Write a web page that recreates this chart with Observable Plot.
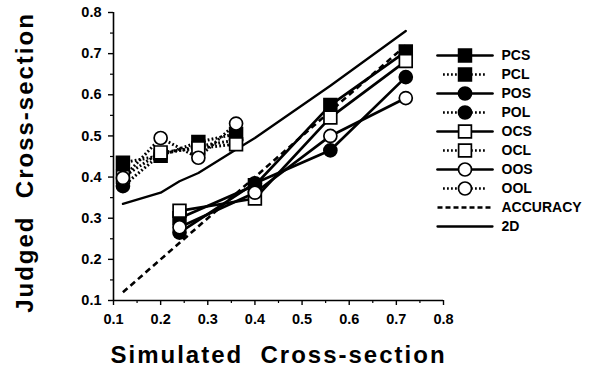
<!DOCTYPE html>
<html>
<head>
<meta charset="utf-8">
<script src="https://cdn.jsdelivr.net/npm/d3@7"></script>
<script src="https://cdn.jsdelivr.net/npm/@observablehq/plot@0.6"></script>
<style>
  html, body { margin: 0; padding: 0; background: #fff; }
  #wrap { position: relative; width: 606px; height: 374px; }
  #main svg { display: block; }
  #legend { position: absolute; left: 420px; top: 30px; }
  #main g[aria-label="text"] text { letter-spacing: 2px; }
</style>
</head>
<body>
<div id="wrap"><div id="main"></div><div id="legend"></div></div>
<script>
// Simulated cross-section values for the two stimulus sets
const xL = [0.12, 0.2, 0.28, 0.36];
const xS = [0.24, 0.4, 0.56, 0.72];

// Judged cross-section per condition
const PCS = [0.300, 0.380, 0.575, 0.705];
const PCL = [0.435, 0.452, 0.485, 0.505];
const POS = [0.265, 0.385, 0.465, 0.643];
const POL = [0.378, 0.455, 0.475, 0.490];
const OCS = [0.318, 0.348, 0.545, 0.682];
const OCL = [0.400, 0.460, 0.470, 0.480];
const OOS = [0.278, 0.362, 0.500, 0.592];
const OOL = [0.398, 0.495, 0.447, 0.530];

const accX = [0.12, 0.72];
const accY = [0.12, 0.72];

const x2D = [0.12, 0.2, 0.24, 0.28, 0.36, 0.4, 0.56, 0.72];
const y2D = [0.335, 0.362, 0.390, 0.410, 0.467, 0.495, 0.622, 0.755];

const xTicks = [0.1, 0.2, 0.3, 0.4, 0.5, 0.6, 0.7, 0.8];
const yTicks = [0.1, 0.2, 0.3, 0.4, 0.5, 0.6, 0.7, 0.8];
const minorTicks = [0.15, 0.25, 0.35, 0.45, 0.55, 0.65, 0.75];

const legendNames = ["PCS","PCL","POS","POL","OCS","OCL","OOS","OOL","ACCURACY","2D"];

const series = [
  {name: "PCS", xs: xS, ys: PCS, dotted: false, symbol: "square", fill: "black"},
  {name: "PCL", xs: xL, ys: PCL, dotted: true,  symbol: "square", fill: "black"},
  {name: "POS", xs: xS, ys: POS, dotted: false, symbol: "circle", fill: "black"},
  {name: "POL", xs: xL, ys: POL, dotted: true,  symbol: "circle", fill: "black"},
  {name: "OCS", xs: xS, ys: OCS, dotted: false, symbol: "square", fill: "white"},
  {name: "OCL", xs: xL, ys: OCL, dotted: true,  symbol: "square", fill: "white"},
  {name: "OOS", xs: xS, ys: OOS, dotted: false, symbol: "circle", fill: "white"},
  {name: "OOL", xs: xL, ys: OOL, dotted: true,  symbol: "circle", fill: "white"}
];

const toPts = (xs, ys) => xs.map((x, i) => ({x, y: ys[i]}));
const DOT = "1.8 2.2";
const symR = s => s === "square" ? 7.2 : 6.5;

const font = "'Liberation Sans', Arial, Helvetica, sans-serif";

const marks = [
  Plot.ruleX([0.1], {y1: 0.1, y2: 0.8, stroke: "black", strokeWidth: 1.6}),
  Plot.ruleY([0.1], {x1: 0.1, x2: 0.8, stroke: "black", strokeWidth: 1.6}),
  Plot.axisY({ticks: yTicks, label: null, tickFormat: d3.format(".1f"), tickSize: 5, tickPadding: 7, strokeWidth: 1.4, fontSize: 14.5, fontWeight: "bold"}),
  Plot.axisY({ticks: minorTicks, label: null, tickFormat: () => "", tickSize: 3, strokeWidth: 1.2}),
  Plot.axisX({ticks: xTicks, label: null, tickFormat: d3.format(".1f"), tickSize: 5, tickPadding: 8, strokeWidth: 1.4, fontSize: 14.5, fontWeight: "bold"}),
  Plot.axisX({ticks: minorTicks, label: null, tickFormat: () => "", tickSize: 3, strokeWidth: 1.2}),
  Plot.line(toPts(accX, accY), {x: "x", y: "y", stroke: "black", strokeWidth: 2.6, strokeDasharray: "6 4", strokeLinecap: "butt"}),
  Plot.line(toPts(x2D, y2D), {x: "x", y: "y", stroke: "black", strokeWidth: 2.3}),
  Plot.dot(toPts(x2D, y2D), {x: "x", y: "y", symbol: "plus", r: 3.2, fill: "black"})
];
for (const s of series) {
  marks.push(Plot.line(toPts(s.xs, s.ys), {x: "x", y: "y", stroke: "black", strokeWidth: s.dotted ? 3 : 2.7,
    strokeDasharray: s.dotted ? DOT : null, strokeLinecap: s.dotted ? "butt" : "round"}));
}
for (const s of series) {
  marks.push(Plot.dot(toPts(s.xs, s.ys), {x: "x", y: "y", symbol: s.symbol, r: symR(s.symbol),
    fill: s.fill, stroke: "black", strokeWidth: 1.7}));
}
marks.push(Plot.text(["Simulated  Cross-section"], {frameAnchor: "bottom", dy: 55, fontSize: 24, fontWeight: "bold", textAnchor: "middle", lineAnchor: "middle"}));
marks.push(Plot.text(["Judged  Cross-section"], {frameAnchor: "left", dx: -88, dy: 6, rotate: -90, fontSize: 24, fontWeight: "bold", textAnchor: "middle", lineAnchor: "middle"}));

const chart = Plot.plot({
  width: 606, height: 374,
  marginLeft: 113, marginRight: 163, marginTop: 12, marginBottom: 74,
  x: {domain: [0.1, 0.8], axis: null},
  y: {domain: [0.1, 0.8], axis: null},
  style: {fontFamily: font, color: "black", background: "white"},
  marks
});
document.getElementById("main").appendChild(chart);

// Legend drawn as its own small plot
const legRows = legendNames.map(name => {
  const s = series.find(d => d.name === name);
  return s ? {name, dotted: s.dotted, symbol: s.symbol, fill: s.fill} : {name, dotted: false, symbol: null, fill: null};
});
const legMarks = [];
for (const r of legRows) {
  const seg = [{name: r.name, a: r.dotted ? 0.1 : 0, b: r.dotted ? 0.88 : 1}];
  let dash = r.dotted ? DOT : null;
  let sw = r.dotted ? 2.4 : 2.7;
  if (r.name === "ACCURACY") { dash = "5 3"; sw = 2.3; }
  if (r.name === "2D") { sw = 2.3; }
  legMarks.push(Plot.link(seg, {x1: "a", x2: "b", y1: "name", y2: "name", stroke: "black", strokeWidth: sw,
    strokeDasharray: dash, strokeLinecap: dash ? "butt" : "round"}));
}
legMarks.push(Plot.dot(legRows.filter(r => r.symbol === "square"), {x: () => 0.5, y: "name", symbol: "square", r: symR("square"),
  fill: "fill", stroke: "black", strokeWidth: 1.7}));
legMarks.push(Plot.dot(legRows.filter(r => r.symbol === "circle"), {x: () => 0.5, y: "name", symbol: "circle", r: symR("circle"),
  fill: "fill", stroke: "black", strokeWidth: 1.7}));
legMarks.push(Plot.dot(legRows.filter(r => r.name === "2D"), {x: () => 0.5, y: "name", symbol: "plus", r: 3.2, fill: "black"}));
legMarks.push(Plot.text(legRows, {x: () => 1, y: "name", text: "name", dx: 9, textAnchor: "start", fontSize: 14, fontWeight: "bold"}));

const legend = Plot.plot({
  width: 186, height: 220, margin: 0,
  x: {domain: [0, 1], range: [17, 72], axis: null},
  y: {type: "point", domain: legendNames, range: [21, 200], padding: 0, axis: null},
  color: {type: "identity"},
  style: {fontFamily: font, color: "black", background: "transparent"},
  marks: legMarks
});
document.getElementById("legend").appendChild(legend);
</script>
</body>
</html>
